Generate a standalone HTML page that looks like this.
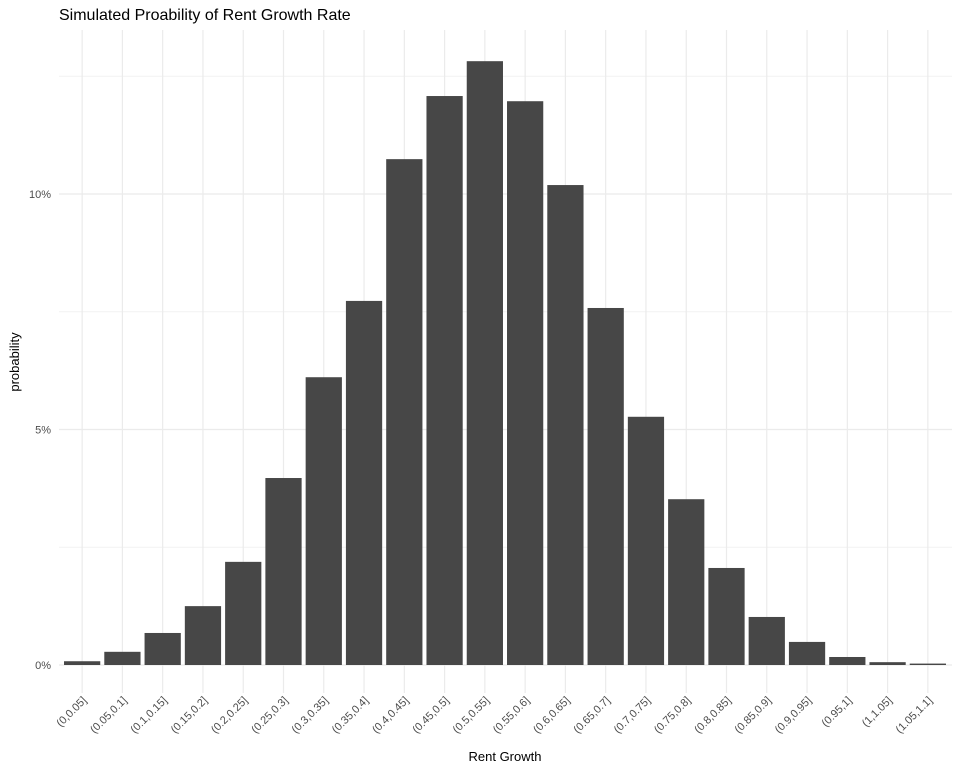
<!DOCTYPE html>
<html><head><meta charset="utf-8"><style>
body{margin:0;background:#fff;font-family:"Liberation Sans",sans-serif}
</style></head><body>
<svg id="chart" width="960" height="768" xmlns="http://www.w3.org/2000/svg" font-family="Liberation Sans, sans-serif">
<text x="59" y="20" font-size="16" fill="#000">Simulated Proability of Rent Growth Rate</text>
<text transform="translate(19,362) rotate(-90)" text-anchor="middle" font-size="13" fill="#000">probability</text>
<text x="505" y="761" text-anchor="middle" font-size="13" fill="#000">Rent Growth</text>
<g id="grid"></g><g id="bars"></g><g id="labels"></g>
</svg>
<script>
const categories=["(0,0.05]","(0.05,0.1]","(0.1,0.15]","(0.15,0.2]","(0.2,0.25]","(0.25,0.3]","(0.3,0.35]","(0.35,0.4]","(0.4,0.45]","(0.45,0.5]","(0.5,0.55]","(0.55,0.6]","(0.6,0.65]","(0.65,0.7]","(0.7,0.75]","(0.75,0.8]","(0.8,0.85]","(0.85,0.9]","(0.9,0.95]","(0.95,1]","(1,1.05]","(1.05,1.1]"];
const values=[0.08,0.28,0.68,1.25,2.19,3.97,6.11,7.73,10.74,12.08,12.82,11.97,10.19,7.58,5.27,3.52,2.06,1.02,0.49,0.17,0.06,0.03];
const majorTicks=[0,5,10];
const tickLabels=["0%","5%","10%"];
const minorTicks=[2.5,7.5,12.5];
const NS="http://www.w3.org/2000/svg";
const plotLeft=59,plotRight=952,plotTop=30,plotBottom=693,y0=665,pxPer=47.1;
const barLeft=62,barRight=948;
const step=(barRight-barLeft)/categories.length;
const yScale=v=>y0-v*pxPer;
const xScale=i=>barLeft+step*(i+0.5);
const gGrid=document.getElementById('grid'),gBars=document.getElementById('bars'),gLabels=document.getElementById('labels');
function mk(tag,a,parent){const e=document.createElementNS(NS,tag);for(const k in a)e.setAttribute(k,a[k]);parent.appendChild(e);return e;}
minorTicks.forEach(t=>{const e=mk('line',{x1:plotLeft,x2:plotRight,y1:yScale(t),y2:yScale(t),stroke:'#f2f2f2','stroke-width':1},gGrid);

});
majorTicks.forEach((t,i)=>{const e=mk('line',{x1:plotLeft,x2:plotRight,y1:yScale(t),y2:yScale(t),stroke:'#ebebeb','stroke-width':1.2},gGrid);


const tx=mk('text',{x:plotLeft-8,y:yScale(t)+4,'text-anchor':'end','font-size':11,fill:'#4d4d4d'},gLabels);tx.textContent=tickLabels[i];

});
categories.forEach((c,i)=>{const e=mk('line',{x1:xScale(i),x2:xScale(i),y1:plotTop,y2:plotBottom,stroke:'#ebebeb','stroke-width':1.2},gGrid);


const r=mk('rect',{x:xScale(i)-step*0.45,width:step*0.9,y:yScale(values[i]),height:y0-yScale(values[i]),fill:'#474747'},gBars);


const t=mk('text',{transform:`translate(${xScale(i)+5},701) rotate(-45)`,'text-anchor':'end','font-size':11,fill:'#4d4d4d'},gLabels);t.textContent=c;

});
</script>
</body></html>
